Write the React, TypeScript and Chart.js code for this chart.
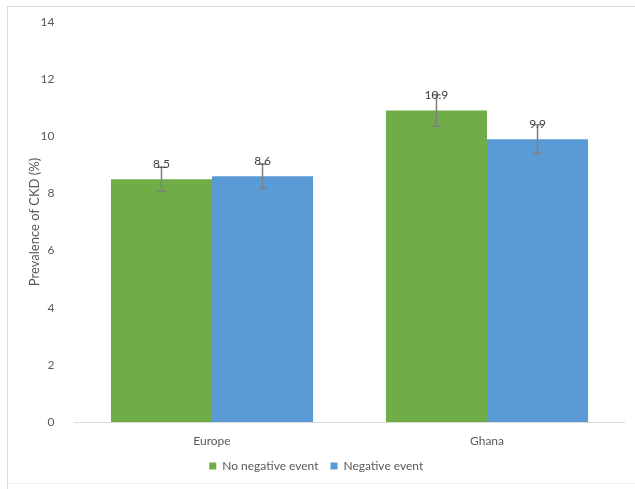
import React, { useEffect, useRef } from "react";
import { Chart, registerables } from "chart.js";

Chart.register(...registerables);

const categories = ["Europe", "Ghana"];
const seriesNames = ["No negative event", "Negative event"];
const noNegative = [8.5, 10.9];
const negative = [8.6, 9.9];
const noNegativeErr = [0.42, 0.55];
const negativeErr = [0.43, 0.5];
const yTicks = [0, 2, 4, 6, 8, 10, 12, 14];

const GREEN = "#70AD47";
const BLUE = "#5B9BD5";
const FONT = "Lato, 'Open Sans', sans-serif";

const errors = [noNegativeErr, negativeErr];

const framePlugin = {
  id: "frame",
  beforeDraw(chart: any) {
    const ctx = chart.ctx;
    ctx.save();
    ctx.fillStyle = "#ffffff";
    ctx.fillRect(0, 0, chart.width, chart.height);
    ctx.lineWidth = 1;
    ctx.strokeStyle = "#D9D9D9";
    ctx.beginPath();
    ctx.moveTo(7.5, 6);
    ctx.lineTo(7.5, chart.height);
    ctx.moveTo(7, 6.5);
    ctx.lineTo(chart.width, 6.5);
    ctx.stroke();
    ctx.strokeStyle = "#EEEEEE";
    ctx.beginPath();
    ctx.moveTo(8, 483.5);
    ctx.lineTo(chart.width, 483.5);
    ctx.stroke();
    ctx.restore();
  },
};

const errorBarPlugin = {
  id: "errorBars",
  afterDatasetsDraw(chart: any) {
    const ctx = chart.ctx;
    const y = chart.scales.y;
    chart.data.datasets.forEach((ds: any, di: number) => {
      const meta = chart.getDatasetMeta(di);
      meta.data.forEach((bar: any, i: number) => {
        const v = ds.data[i];
        const e = errors[di][i];
        const top = y.getPixelForValue(v + e);
        const bot = y.getPixelForValue(v - e);
        const x = bar.x;
        ctx.save();
        ctx.strokeStyle = "#7F7F7F";
        ctx.lineWidth = 1.5;
        ctx.beginPath();
        ctx.moveTo(x, top);
        ctx.lineTo(x, bot);
        ctx.moveTo(x - 4, top);
        ctx.lineTo(x + 4, top);
        ctx.moveTo(x - 4, bot);
        ctx.lineTo(x + 4, bot);
        ctx.stroke();
        ctx.restore();
      });
    });
    chart.data.datasets.forEach((ds: any, di: number) => {
      const meta = chart.getDatasetMeta(di);
      meta.data.forEach((bar: any, i: number) => {
        const v = ds.data[i];
        ctx.save();
        ctx.fillStyle = "#404040";
        ctx.font = `12px ${FONT}`;
        ctx.textAlign = "center";
        ctx.textBaseline = "middle";
        ctx.fillText(v.toFixed(1), bar.x, bar.y - 15);
        ctx.restore();
      });
    });
  },
};

export default function App() {
  const ref = useRef<HTMLCanvasElement | null>(null);
  useEffect(() => {
    if (!ref.current) return;
    const chart = new Chart(ref.current, {
      type: "bar",
      data: {
        labels: categories,
        datasets: [
          {
            label: seriesNames[0],
            data: noNegative,
            backgroundColor: GREEN,
            categoryPercentage: 0.735,
            barPercentage: 1,
          },
          {
            label: seriesNames[1],
            data: negative,
            backgroundColor: BLUE,
            categoryPercentage: 0.735,
            barPercentage: 1,
          },
        ],
      },
      options: {
        animation: false,
        responsive: false,
        maintainAspectRatio: false,
        layout: { padding: { left: 8, right: 10.5, top: 22, bottom: 7 } },
        plugins: {
          legend: {
            position: "bottom",
            labels: {
              boxWidth: 7,
              boxHeight: 7,
              color: "#595959",
              font: { family: FONT, size: 12 },
              padding: 12,
            },
          },
          tooltip: { enabled: false },
        },
        scales: {
          x: {
            grid: { display: false },
            border: { display: true, color: "#D9D9D9", width: 1 },
            ticks: { color: "#595959", font: { family: FONT, size: 12 }, padding: 4 },
            afterFit: (s: any) => {
              s.height = 26;
            },
          },
          y: {
            min: 0,
            max: 14,
            afterBuildTicks: (s: any) => {
              s.ticks = yTicks.map((v) => ({ value: v }));
            },
            grid: { display: false },
            border: { display: false },
            ticks: { color: "#595959", font: { family: FONT, size: 12 }, padding: 12 },
            title: {
              display: true,
              text: "Prevalence of CKD (%)",
              color: "#595959",
              font: { family: FONT, size: 13 },
              padding: { top: 19, bottom: 0 },
            },
            afterFit: (s: any) => {
              s.width = 66.5;
            },
          },
        },
      },
      plugins: [framePlugin, errorBarPlugin],
    });
    return () => chart.destroy();
  }, []);
  return (
    <div style={{ position: "absolute", left: 0, top: 0, width: 635, height: 489 }}>
      <canvas ref={ref} width={635} height={489} style={{ display: "block" }} />
    </div>
  );
}
